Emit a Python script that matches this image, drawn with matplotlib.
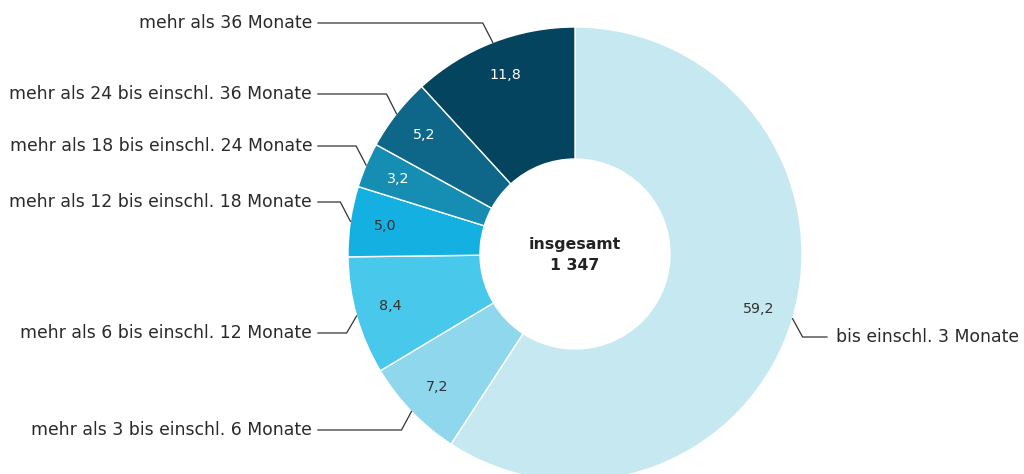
import matplotlib.pyplot as plt
import numpy as np

labels = ["bis einschl. 3 Monate",
          "mehr als 3 bis einschl. 6 Monate",
          "mehr als 6 bis einschl. 12 Monate",
          "mehr als 12 bis einschl. 18 Monate",
          "mehr als 18 bis einschl. 24 Monate",
          "mehr als 24 bis einschl. 36 Monate",
          "mehr als 36 Monate"]
values = [59.2, 7.2, 8.4, 5.0, 3.2, 5.2, 11.8]
value_text = ["59,2", "7,2", "8,4", "5,0", "3,2", "5,2", "11,8"]
total_text = "insgesamt\n1 347"

colors = ["#c6e8f0", "#8fd7ed", "#48c8ea", "#14b0e1", "#168eb4", "#0e6688", "#04445f"]
val_colors = ["#333333", "#333333", "#333333", "#333333", "white", "white", "white"]

W, H = 1024, 474
fig = plt.figure(figsize=(W / 100, H / 100), dpi=100)
ax = fig.add_axes([0, 0, 1, 1])

cx, cy = 575, H - 254
R = 227
width = 132

wedges, _ = ax.pie(values, colors=colors, startangle=90, counterclock=False,
                   center=(cx, cy), radius=R,
                   wedgeprops=dict(width=width, edgecolor="white", linewidth=1))

# label y positions (pixel rows from top) and side
label_rows = [337, 430, 333, 202, 146, 94, 23]
sides = [1, -1, -1, -1, -1, -1, -1]

for w, vt, vc, lab, row, side in zip(wedges, value_text, val_colors, labels, label_rows, sides):
    ang = np.deg2rad((w.theta1 + w.theta2) / 2)
    # value label inside ring
    r_in = 192
    ax.text(cx + r_in * np.cos(ang), cy + r_in * np.sin(ang), vt,
            ha="center", va="center", fontsize=10.3, color=vc)
    # leader line
    x0 = cx + R * np.cos(ang)
    y0 = cy + R * np.sin(ang)
    ly = H - row
    xe = x0 + side * 10
    if side == -1:
        xs = [x0, xe, 318]
        tx, ha = 312, "right"
    else:
        xs = [x0, xe, 827]
        tx, ha = 836, "left"
    ax.plot(xs, [y0, ly, ly], color="#333333", lw=0.9)
    ax.text(tx, ly, lab, ha=ha, va="center", fontsize=12.4, color="#2a2a2a")

ax.text(cx, cy - 1, total_text, ha="center", va="center", fontsize=11.3,
        fontweight="bold", color="#222222", linespacing=1.45)

ax.set_xlim(0, W)
ax.set_ylim(0, H)
ax.set_aspect("equal")
ax.axis("off")
fig.savefig("out.png", dpi=100)
